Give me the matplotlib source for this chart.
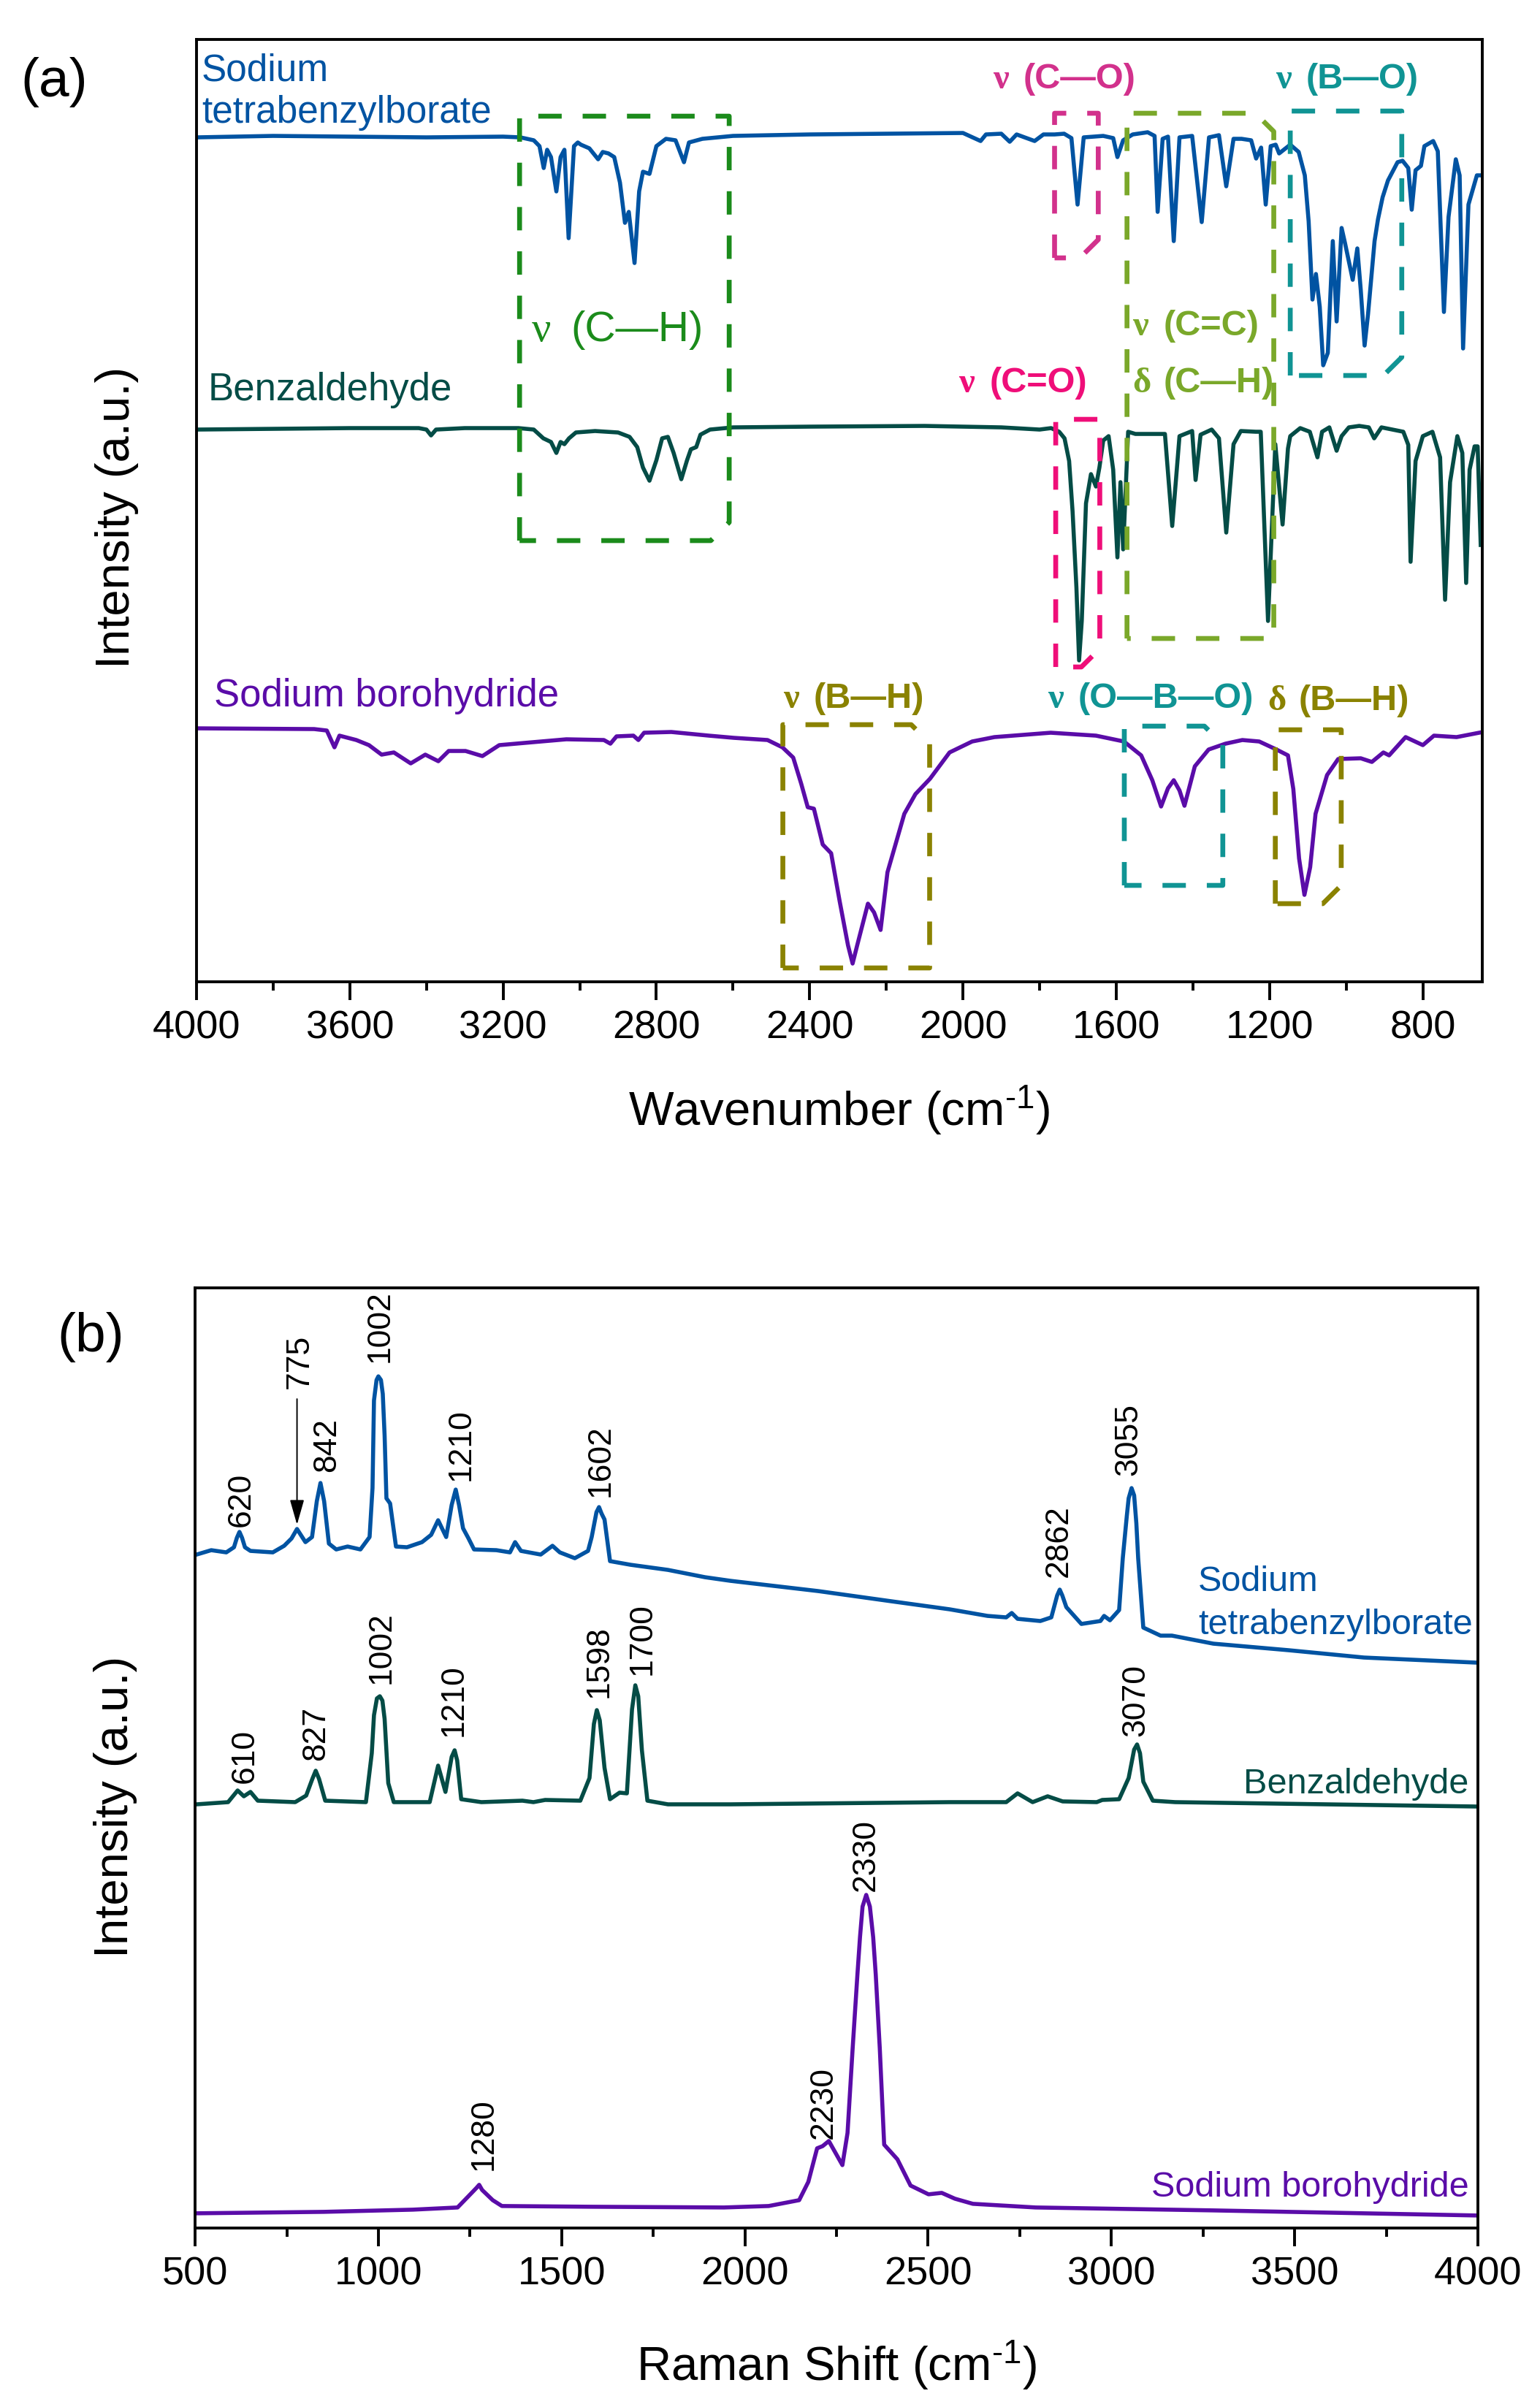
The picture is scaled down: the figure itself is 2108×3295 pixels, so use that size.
import numpy as np
import matplotlib.pyplot as plt
import matplotlib.transforms as mtransforms
from matplotlib.ticker import MultipleLocator

plt.rcParams['font.family'] = ['Liberation Sans', 'DejaVu Sans']
plt.rcParams['mathtext.fontset'] = 'custom'
plt.rcParams['mathtext.rm'] = 'Liberation Sans'
plt.rcParams['mathtext.default'] = 'regular'

# ---------------------------------------------------------------------------
# (a) FTIR traces, wavenumber vs. intensity (a.u., offset traces)
# ---------------------------------------------------------------------------
ir_tbb = [
    (4000, 1156), (3800, 1158), (3600, 1157), (3400, 1156), (3200, 1157), (3155, 1156),
    (3120, 1152), (3105, 1144), (3094, 1114), (3085, 1139), (3075, 1129), (3061, 1082),
    (3050, 1129), (3040, 1139), (3029, 1018), (3015, 1144), (3005, 1149), (2997, 1146),
    (2975, 1141), (2952, 1126), (2940, 1136), (2925, 1134), (2910, 1129), (2895, 1094),
    (2882, 1039), (2872, 1054), (2857, 984), (2845, 1082), (2835, 1109), (2818, 1106),
    (2800, 1144), (2775, 1154), (2750, 1152), (2728, 1122), (2715, 1149), (2680, 1154),
    (2600, 1158), (2400, 1160), (2200, 1161), (2000, 1162), (1954, 1151), (1940, 1160),
    (1900, 1161), (1878, 1150), (1860, 1160), (1813, 1151), (1790, 1160), (1761, 1160),
    (1736, 1161), (1717, 1155), (1701, 1064), (1685, 1156), (1659, 1157), (1634, 1158),
    (1608, 1155), (1597, 1129), (1582, 1152), (1557, 1160), (1518, 1163), (1500, 1158),
    (1492, 1054), (1479, 1154), (1465, 1157), (1450, 1014), (1435, 1156), (1402, 1158),
    (1377, 1040), (1358, 1156), (1332, 1159), (1313, 1089), (1294, 1154), (1273, 1154),
    (1248, 1152), (1235, 1127), (1222, 1142), (1210, 1064), (1197, 1144), (1184, 1146),
    (1175, 1134), (1146, 1146), (1124, 1136), (1108, 1104), (1098, 1041), (1088, 934),
    (1079, 969), (1069, 924), (1060, 844), (1048, 861), (1035, 1014), (1025, 904),
    (1012, 1032), (1003, 1011), (983, 961), (971, 1004), (962, 947), (952, 871),
    (943, 914), (926, 1014), (917, 1044), (905, 1074), (891, 1097), (866, 1122),
    (853, 1124), (838, 1114), (829, 1057), (819, 1111), (805, 1117), (796, 1144),
    (773, 1151), (761, 1137), (745, 917), (733, 1047), (714, 1126), (704, 1104),
    (695, 867), (681, 1064), (659, 1104), (645, 1104),
]
ir_bzh = [
    (4000, 756), (3800, 757), (3600, 758), (3420, 758), (3400, 756), (3388, 748),
    (3375, 756), (3300, 758), (3160, 758), (3120, 756), (3095, 744), (3075, 739),
    (3061, 724), (3050, 739), (3040, 736), (3028, 744), (3010, 752), (2960, 754),
    (2900, 752), (2870, 746), (2850, 732), (2835, 704), (2818, 686), (2800, 714),
    (2785, 744), (2770, 746), (2755, 724), (2735, 688), (2720, 714), (2710, 729),
    (2696, 732), (2685, 749), (2660, 756), (2600, 759), (2400, 760), (2100, 761),
    (1900, 759), (1800, 756), (1770, 758), (1749, 753), (1735, 744), (1723, 713),
    (1714, 644), (1704, 540), (1697, 440), (1690, 494), (1679, 655), (1666, 695),
    (1653, 678), (1644, 704), (1634, 741), (1620, 747), (1608, 701), (1597, 581),
    (1589, 684), (1582, 592), (1569, 753), (1550, 750), (1492, 750), (1473, 750),
    (1454, 624), (1435, 747), (1402, 754), (1393, 687), (1380, 749), (1351, 756),
    (1332, 744), (1313, 615), (1294, 736), (1275, 754), (1236, 753), (1223, 753),
    (1204, 494), (1185, 736), (1166, 626), (1152, 730), (1146, 747), (1120, 758),
    (1095, 753), (1075, 718), (1063, 753), (1044, 759), (1025, 727), (1012, 747),
    (993, 759), (966, 761), (941, 759), (927, 744), (908, 759), (851, 753),
    (838, 735), (832, 575), (819, 713), (800, 747), (775, 753), (755, 718),
    (742, 523), (729, 684), (710, 747), (697, 724), (687, 546), (678, 701),
    (665, 733), (657, 733), (649, 598),
]
ir_nabh4 = [
    (3999, 347), (3693, 346), (3660, 344), (3640, 321), (3627, 337), (3583, 331),
    (3550, 324), (3517, 311), (3485, 314), (3441, 299), (3403, 311), (3369, 302),
    (3342, 316), (3298, 316), (3254, 309), (3210, 324), (3145, 327), (3035, 332),
    (2937, 331), (2920, 326), (2904, 336), (2860, 337), (2847, 331), (2832, 341),
    (2761, 342), (2663, 337), (2598, 334), (2510, 331), (2471, 321), (2443, 307),
    (2422, 271), (2405, 239), (2389, 237), (2366, 188), (2344, 176), (2322, 111),
    (2300, 50), (2288, 25), (2276, 50), (2248, 107), (2232, 95), (2215, 71),
    (2197, 150), (2153, 230), (2124, 257), (2086, 278), (2035, 314), (1976, 329),
    (1918, 335), (1771, 341), (1653, 337), (1580, 329), (1535, 310), (1506, 276),
    (1483, 240), (1465, 265), (1450, 276), (1435, 262), (1422, 241), (1395, 295),
    (1359, 318), (1315, 326), (1271, 331), (1227, 329), (1182, 318), (1152, 310),
    (1138, 264), (1123, 169), (1109, 119), (1094, 157), (1080, 230), (1050, 283),
    (1021, 305), (962, 306), (933, 301), (903, 314), (888, 310), (845, 335),
    (800, 324), (771, 337), (712, 335), (653, 341),
]

# band regions: symbol, group, wn high, wn low, y bottom, y top, chamfered corner
ir_bands = [
    ('ν', '(C—H)', 3157, 2610, 604, 1185, 'br'),
    ('ν', '(C—O)', 1761, 1647, 991, 1189, 'br'),
    ('ν', '(C=C)', 1572, 1189, 470, 1189, 'tr'),
    ('ν', '(B—O)', 1146, 855, 830, 1192, 'br'),
    ('ν', '(C=O)', 1758, 1643, 431, 770, 'br'),
    ('ν', '(B—H)', 2470, 2087, 19, 352, 'tr'),
    ('ν', '(O—B—O)', 1579, 1322, 132, 350, 'tr'),
    ('δ', '(B—H)', 1185, 1013, 107, 345, 'br'),
]
ir_band_text = [  # symbol, group, wn, y
    ('ν', '(C—H)', 3126, 877),
    ('ν', '(C—O)', 1922, 1223),
    ('ν', '(B—O)', 1185, 1223),
    ('ν', '(C=C)', 1557, 885),
    ('δ', '(C—H)', 1557, 807),
    ('ν', '(C=O)', 2011, 807),
    ('ν', '(B—H)', 2470, 375),
    ('ν', '(O—B—O)', 1779, 375),
    ('δ', '(B—H)', 1204, 372),
]

# ---------------------------------------------------------------------------
# (b) Raman traces
# ---------------------------------------------------------------------------
ra_tbb = [
    (504, 922), (544, 928), (585, 925), (606, 932), (614, 945), (621, 953), (628, 945),
    (636, 932), (651, 927), (712, 925), (743, 934), (763, 944), (778, 957), (801, 939),
    (819, 946), (832, 995), (842, 1020), (852, 995), (865, 937), (885, 929), (916, 933),
    (951, 929), (976, 946), (984, 1013), (988, 1133), (995, 1161), (1000, 1166),
    (1007, 1161), (1012, 1142), (1017, 1085), (1022, 999), (1032, 992), (1048, 933),
    (1078, 932), (1119, 939), (1144, 949), (1163, 969), (1185, 946), (1200, 990),
    (1211, 1011), (1220, 990), (1231, 958), (1246, 944), (1261, 929), (1322, 928),
    (1359, 925), (1373, 939), (1389, 927), (1443, 922), (1475, 934), (1495, 925),
    (1536, 917), (1572, 927), (1582, 946), (1595, 980), (1602, 987), (1609, 978),
    (1617, 970), (1632, 913), (1688, 908), (1790, 901), (1891, 891), (1961, 886),
    (2200, 872), (2400, 858), (2559, 847), (2662, 838), (2713, 836), (2728, 842),
    (2744, 834), (2806, 831), (2836, 836), (2852, 866), (2859, 874), (2866, 866),
    (2877, 850), (2918, 827), (2970, 831), (2980, 838), (2996, 832), (3021, 846),
    (3031, 917), (3042, 975), (3047, 999), (3055, 1013), (3062, 1003), (3068, 965),
    (3073, 917), (3087, 822), (3134, 811), (3165, 811), (3206, 807), (3278, 800),
    (3484, 791), (3689, 781), (3997, 774),
]
ra_bzh = [
    (504, 580), (590, 583), (616, 599), (633, 591), (651, 597), (671, 585), (773, 583),
    (803, 592), (820, 615), (829, 626), (838, 615), (855, 585), (966, 583), (982, 650),
    (988, 702), (996, 725), (1004, 728), (1011, 722), (1017, 697), (1027, 609),
    (1042, 583), (1140, 583), (1163, 633), (1183, 597), (1200, 645), (1208, 654),
    (1215, 640), (1226, 587), (1281, 583), (1393, 585), (1423, 583), (1455, 586),
    (1551, 585), (1576, 616), (1588, 690), (1596, 709), (1604, 695), (1617, 630),
    (1632, 587), (1658, 596), (1678, 595), (1692, 710), (1701, 743), (1709, 728),
    (1719, 654), (1734, 585), (1790, 580), (1961, 580), (2559, 583), (2713, 583),
    (2744, 595), (2785, 583), (2826, 591), (2867, 584), (2960, 583), (2975, 586),
    (3021, 587), (3047, 616), (3062, 655), (3070, 662), (3078, 650), (3087, 611),
    (3113, 585), (3174, 583), (3997, 577),
]
ra_nabh4 = [
    (500, 20), (851, 22), (1094, 25), (1216, 28), (1245, 43), (1268, 55), (1275, 59),
    (1283, 52), (1312, 38), (1337, 30), (1578, 29), (1943, 28), (2065, 30), (2148, 38),
    (2173, 63), (2197, 109), (2212, 112), (2229, 119), (2266, 86), (2280, 130),
    (2294, 246), (2307, 347), (2314, 398), (2321, 440), (2331, 456), (2341, 440),
    (2350, 398), (2357, 347), (2368, 246), (2380, 114), (2416, 94), (2452, 58),
    (2501, 46), (2537, 48), (2573, 40), (2622, 33), (2793, 28), (3277, 24), (4000, 17),
]

# peak labels: text, wn, y of label foot
ra_tbb_peaks = [('620', 626, 960), ('842', 860, 1035), ('1002', 1004, 1185),
                ('1210', 1225, 1023), ('1602', 1607, 1001), ('2862', 2857, 891),
                ('3055', 3047, 1030)]
ra_bzh_peaks = [('610', 636, 609), ('827', 829, 640), ('1002', 1009, 745),
                ('1210', 1206, 673), ('1598', 1602, 726), ('1700', 1719, 757),
                ('3070', 3067, 673)]
ra_nabh4_peaks = [('1280', 1287, 79), ('2230', 2214, 122), ('2330', 2331, 461)]

C_TBB = '#0053a2'
C_BZH = '#044c46'
C_NABH = '#5a0ca8'
OLIVE = '#8a8200'
band_colors = {
    '(C—H)': '#1b8b1b', '(C—O)': '#d2318c', '(C=C)': '#7aa82a', '(B—O)': '#109494',
    '(C=O)': '#ef0e79', '(B—H)': OLIVE, '(O—B—O)': '#109494',
}

DPI = 200
fig = plt.figure(figsize=(10.54, 16.475), dpi=DPI)
ax1 = fig.add_axes([0.1276, 0.5921, 0.8349, 0.3915])
ax2 = fig.add_axes([0.1267, 0.0744, 0.8330, 0.3905])


def style_axes(ax, major, minor):
    for sp in ax.spines.values():
        sp.set_linewidth(1.4)
    ax.xaxis.set_major_locator(MultipleLocator(major))
    ax.xaxis.set_minor_locator(MultipleLocator(minor))
    ax.tick_params(axis='x', which='major', direction='out', length=9, width=1.4,
                   labelsize=19.5, pad=5)
    ax.tick_params(axis='x', which='minor', direction='out', length=4.3, width=1.4)
    ax.set_yticks([])


def band_label(ax, sym, rest, wn, y, color, size, bold, gap_px):
    weight = 'bold' if bold else 'normal'
    ax.text(wn, y, sym, family='Liberation Serif', fontsize=size, fontweight=weight,
            color=color, ha='left', va='baseline')
    tr = mtransforms.offset_copy(ax.transData, fig=ax.figure, x=gap_px * 72 / DPI,
                                 y=0, units='points')
    ax.text(wn, y, rest, transform=tr, fontsize=size, fontweight=weight,
            color=color, ha='left', va='baseline')


# ---------------- panel (a) ----------------
for data, col in [(ir_tbb, C_TBB), (ir_bzh, C_BZH), (ir_nabh4, C_NABH)]:
    arr = np.array(data, dtype=float)
    ax1.plot(arr[:, 0], arr[:, 1], color=col, lw=2.0, solid_joinstyle='round')

cx, cy = 48, 25
for sym, grp, wl, wr, yb, yt, corner in ir_bands:
    col = band_colors[grp]
    if corner == 'br':
        pts = [(wl, yb), (wl, yt), (wr, yt), (wr, yb + cy), (wr + cx, yb), (wl, yb)]
    else:
        pts = [(wl, yb), (wl, yt), (wr + cx, yt), (wr, yt - cy), (wr, yb), (wl, yb)]
    p = np.array(pts, dtype=float)
    ax1.plot(p[:, 0], p[:, 1], color=col, lw=2.4, linestyle=(0, (4.8, 4.3)),
             dash_capstyle='butt')

for sym, grp, wn, y in ir_band_text:
    col = band_colors[grp]
    if grp == '(C—H)' and sym == 'δ':
        col = band_colors['(C=C)']
    if grp == '(C—H)' and sym == 'ν':
        band_label(ax1, sym, grp, wn, y, col, 21, False, 54)
    else:
        band_label(ax1, sym, grp, wn, y, col, 17.5, True, 42)

ax1.text(3987, 1234, 'Sodium', color=C_TBB, fontsize=18.5, va='baseline')
ax1.text(3987, 1176, 'tetrabenzylborate', color=C_TBB, fontsize=18.5, va='baseline')
ax1.text(3971, 796, 'Benzaldehyde', color=C_BZH, fontsize=19, va='baseline')
ax1.text(3955, 377, 'Sodium borohydride', color=C_NABH, fontsize=19, va='baseline')

ax1.set_xlim(4000, 645)
ax1.set_ylim(0, 1290)
style_axes(ax1, 400, 200)
ax1.set_xlabel(r'Wavenumber (cm$^{\text{-}1}$)', fontsize=23.5)
ax1.xaxis.set_label_coords(0.5, -0.108)
ax1.set_ylabel('Intensity (a.u.)', fontsize=23.5)
ax1.yaxis.set_label_coords(-0.045, 0.493)

# ---------------- panel (b) ----------------
for data, col in [(ra_tbb, C_TBB), (ra_bzh, C_BZH), (ra_nabh4, C_NABH)]:
    arr = np.array(data, dtype=float)
    ax2.plot(arr[:, 0], arr[:, 1], color=col, lw=2.0, solid_joinstyle='round')

for peaks in (ra_tbb_peaks, ra_bzh_peaks, ra_nabh4_peaks):
    for lab, wn, y in peaks:
        ax2.text(wn, y, lab, rotation=90, ha='center', va='bottom', fontsize=16)

ax2.text(785, 1149, '775', rotation=90, ha='center', va='bottom', fontsize=16)
ax2.annotate('', xy=(778, 963), xytext=(778, 1135),
             arrowprops=dict(arrowstyle='-|>,head_length=0.7,head_width=0.2',
                             color='black', lw=0.7, mutation_scale=15,
                             shrinkA=0, shrinkB=0))

ax2.text(3237, 872, 'Sodium', color=C_TBB, fontsize=17.5, va='baseline')
ax2.text(3237, 813, 'tetrabenzylborate', color=C_TBB, fontsize=17.5, va='baseline')
ax2.text(3974, 595, 'Benzaldehyde', color=C_BZH, fontsize=17.5, ha='right', va='baseline')
ax2.text(3975, 43, 'Sodium borohydride', color=C_NABH, fontsize=17.5, ha='right',
         va='baseline')

ax2.set_xlim(500, 4000)
ax2.set_ylim(0, 1287)
style_axes(ax2, 500, 250)
ax2.set_xlabel(r'Raman Shift (cm$^{\text{-}1}$)', fontsize=23.5)
ax2.xaxis.set_label_coords(0.5, -0.118)
ax2.set_ylabel('Intensity (a.u.)', fontsize=23.5)
ax2.yaxis.set_label_coords(-0.045, 0.448)

fig.text(0.0351, 0.966, '(a)', fontsize=27, ha='center', va='center')
fig.text(0.0588, 0.4446, '(b)', fontsize=27, ha='center', va='center')

fig.savefig('out.png', dpi=DPI)
